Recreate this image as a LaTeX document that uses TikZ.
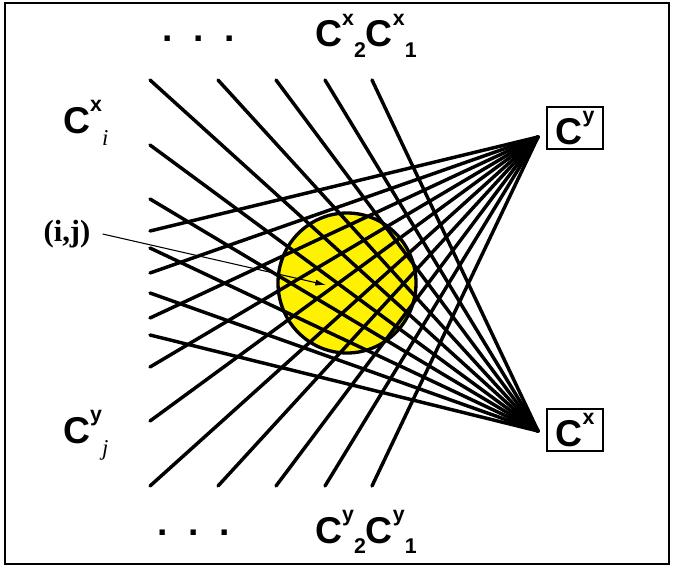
\documentclass[tikz,border=0pt]{standalone}
\usepackage{fontspec}
\setmainfont{Liberation Serif}
\setsansfont{Liberation Sans}
\usetikzlibrary{arrows.meta}
\newcommand\hi[1]{\raisebox{16pt}{\fontsize{16}{16}\selectfont #1}}
\newcommand\lo[1]{\raisebox{-8pt}{\fontsize{16}{16}\selectfont #1}}
\newcommand\loit[1]{\raisebox{-9pt}{\rmfamily\mdseries\itshape\fontsize{17}{17}\selectfont #1}}
\begin{document}
\begin{tikzpicture}[x=0.75pt,y=-0.75pt,
  ray/.style={line width=2.6pt,line cap=round},
  tag/.style={font=\sffamily\bfseries\fontsize{28}{30}\selectfont,inner sep=0pt,anchor=base west},
  boxtag/.style={draw,line width=1.5pt,font=\sffamily\bfseries\fontsize{28}{30}\selectfont,
    minimum width=42pt,minimum height=31pt,inner sep=0pt}]
\useasboundingbox (0,0) rectangle (673,567);
\draw[line width=1.6pt] (5,3) rectangle (669,564);
\draw[line width=2.5pt,fill=yellow] (347,283) ellipse [x radius=69,y radius=70];
\coordinate (hy) at (538,137);
\coordinate (hx) at (538,431);
\foreach \x [count=\k] in {150,218,276,325,372}{
  \coordinate (t\k) at (\x,80);
  \coordinate (b\k) at (\x,486);
  \draw[ray] (t\k) -- (hx);
  \draw[ray] (b\k) -- (hy);
}
\foreach \y [count=\k] in {145,199,248,293,335}{
  \coordinate (l\k) at (150,\y);
  \coordinate (m\k) at (150,566-\y);
  \draw[ray] (l\k) -- (hx);
  \draw[ray] (m\k) -- (hy);
}
% labels
\node[tag] (dtop) at (162,42) {.\hspace{15.5pt}.\hspace{15.5pt}.};
\node[tag] (ctop) at (315,47) {C\hi{x}\lo{2}C\hi{x}\lo{1}};
\node[tag] (dbot) at (157,535) {.\hspace{15.5pt}.\hspace{15.5pt}.};
\node[tag] (cbot) at (315,543) {C\hi{y}\lo{2}C\hi{y}\lo{1}};
\node[tag] (ci) at (63,133) {C\hi{x}\loit{i}};
\node[tag] (cj) at (63,443) {C\hi{y}\loit{j}};
\node[boxtag] (by) at (575,128) {C\hi{y}};
\node[boxtag] (bx) at (575,430) {C\hi{x}};
\node[font=\bfseries\fontsize{23}{26}\selectfont,inner sep=0pt] (ij) at (67,234) {(i,j)};
\coordinate (cell) at (326,285);
\draw[line width=0.8pt,-{Latex[length=8pt,width=4.5pt]}] ([xshift=9pt]ij.east) -- (cell);
\end{tikzpicture}
\end{document}
